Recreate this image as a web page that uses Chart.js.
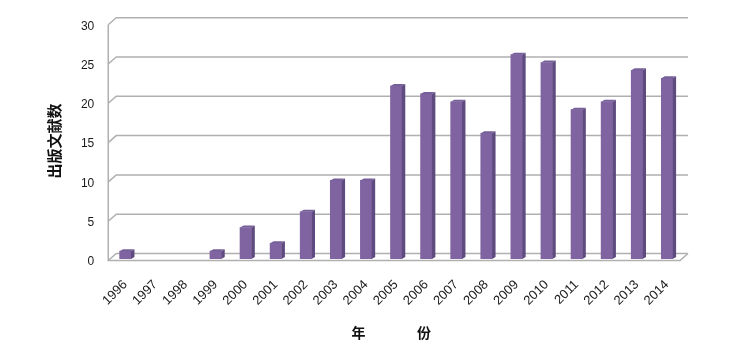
<!DOCTYPE html>
<html>
<head>
<meta charset="utf-8">
<script src="https://cdn.jsdelivr.net/npm/chart.js@4"></script>
<style>
    body { margin: 0; background: #fff; }
    canvas { display: block; }
</style>
</head>
<body>
<canvas id="chart" width="742" height="346"></canvas>
<script>
// Publications per year
const years = ['1996', '1997', '1998', '1999', '2000', '2001', '2002', '2003', '2004', '2005',
    '2006', '2007', '2008', '2009', '2010', '2011', '2012', '2013', '2014'];
const counts = [1, 0, 0, 1, 4, 2, 6, 10, 10, 22, 21, 20, 16, 26, 25, 19, 20, 24, 23];
const yTicks = [0, 5, 10, 15, 20, 25, 30];

// Fake 3D depth offsets (relative to the bar plane)
const FRONT = { dx: -2, dy: 1.5 };
const BACK = { dx: 6, dy: -5.5 };
const BAR_DEPTH = { dx: 3.5, dy: 2 };

const labelFont = { family: 'Liberation Sans, Arial, sans-serif', size: 12 };

// Draws the back wall gridlines, the floor and the front axis line
const wallPlugin = {
    id: 'wall',
    beforeDatasetsDraw(chart) {
        const ctx = chart.ctx;
        const y = chart.scales.y;
        const area = chart.chartArea;
        ctx.save();
        ctx.strokeStyle = '#b0b0b0';
        ctx.lineWidth = 1.5;

        yTicks.forEach(v => {
            const py = y.getPixelForValue(v);
            ctx.beginPath();
            ctx.moveTo(area.left + FRONT.dx, py + FRONT.dy);
            ctx.lineTo(area.left + BACK.dx, py + BACK.dy);
            ctx.lineTo(area.right + BACK.dx, py + BACK.dy);
            ctx.stroke();
        });

        // front axis
        const top = y.getPixelForValue(yTicks[yTicks.length - 1]);
        const bottom = y.getPixelForValue(0);
        ctx.beginPath();
        ctx.moveTo(area.left + FRONT.dx, top + FRONT.dy);
        ctx.lineTo(area.left + FRONT.dx, bottom + FRONT.dy);
        ctx.lineTo(area.right + FRONT.dx, bottom + FRONT.dy);
        ctx.lineTo(area.right + BACK.dx, bottom + BACK.dy);
        ctx.stroke();
        ctx.restore();
    },
    afterDatasetsDraw(chart) {
        // side and top faces of each bar
        const ctx = chart.ctx;
        const meta = chart.getDatasetMeta(0);
        ctx.save();
        meta.data.forEach((bar, i) => {
            if (!counts[i]) return;
            const half = bar.width / 2;
            const l = bar.x - half;
            const r = bar.x + half;
            ctx.fillStyle = '#5f4b80';
            ctx.beginPath();
            ctx.moveTo(r, bar.y);
            ctx.lineTo(r + BAR_DEPTH.dx, bar.y - BAR_DEPTH.dy);
            ctx.lineTo(r + BAR_DEPTH.dx, bar.base - BAR_DEPTH.dy);
            ctx.lineTo(r, bar.base);
            ctx.closePath();
            ctx.fill();
            ctx.fillStyle = '#765f99';
            ctx.beginPath();
            ctx.moveTo(l, bar.y);
            ctx.lineTo(l + BAR_DEPTH.dx, bar.y - BAR_DEPTH.dy);
            ctx.lineTo(r + BAR_DEPTH.dx, bar.y - BAR_DEPTH.dy);
            ctx.lineTo(r, bar.y);
            ctx.closePath();
            ctx.fill();
        });
        ctx.restore();
    }
};

new Chart(document.getElementById('chart'), {
    type: 'bar',
    data: {
        labels: years,
        datasets: [{
            data: counts,
            // empty years get no bar at all
            backgroundColor: ctx => ctx.raw ? '#8064a2' : 'rgba(0,0,0,0)',
            barThickness: 11.3
        }]
    },
    options: {
        responsive: false,
        animation: false,
        layout: { padding: { top: 20.5, right: 60, bottom: 0, left: 0 } },
        plugins: {
            legend: { display: false },
            tooltip: { enabled: false }
        },
        scales: {
            x: {
                grid: { display: false },
                border: { display: false },
                ticks: {
                    font: { family: labelFont.family, size: 13 },
                    color: '#1a1a1a',
                    minRotation: 45,
                    maxRotation: 45,
                    autoSkip: false,
                    padding: 10
                },
                title: {
                    display: true,
                    text: '年　　　   份   ',
                    font: { family: 'Noto Sans CJK SC', size: 14, weight: 'bold' },
                    color: '#111',
                    padding: { top: 0, bottom: 4.6 }
                },
                afterFit(scale) { scale.height = 87; }
            },
            y: {
                min: 0,
                max: 30,
                grid: { display: false, drawTicks: false },
                border: { display: false },
                afterBuildTicks(scale) { scale.ticks = yTicks.map(v => ({ value: v })); },
                ticks: {
                    font: labelFont,
                    color: '#1a1a1a',
                    padding: 16,
                    labelOffset: 3
                },
                title: {
                    display: true,
                    text: '出版文献数',
                    font: { family: 'Noto Sans CJK SC', size: 15, weight: 'bold' },
                    color: '#111',
                    padding: { top: 45.5, bottom: 0 }
                },
                afterFit(scale) { scale.width = 110.25; }
            }
        }
    },
    plugins: [wallPlugin]
});
</script>
</body>
</html>
